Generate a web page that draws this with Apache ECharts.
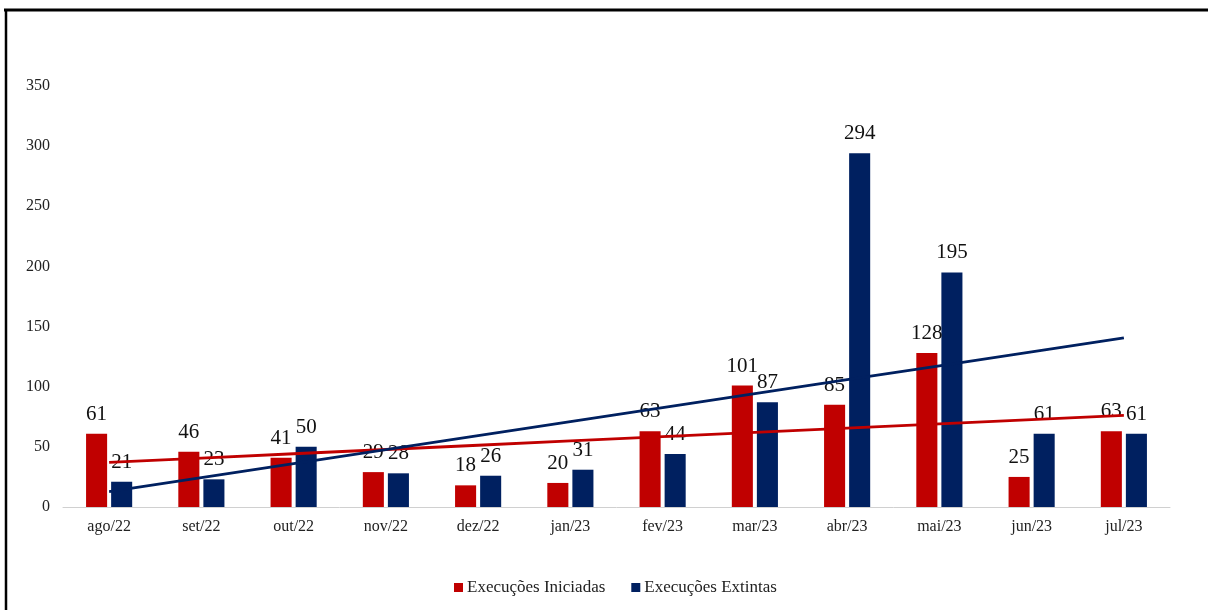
<!DOCTYPE html>
<html>
<head>
<meta charset="utf-8">
<script src="https://cdn.jsdelivr.net/npm/echarts@6/dist/echarts.min.js"></script>
<style>
html,body{margin:0;padding:0;background:#fff;}
#c{width:1208px;height:610px;}
</style>
</head>
<body>
<div id="c"></div>
<script>
const categories = ['ago/22','set/22','out/22','nov/22','dez/22','jan/23','fev/23','mar/23','abr/23','mai/23','jun/23','jul/23'];
const iniciadas = [61,46,41,29,18,20,63,101,85,128,25,63];
const extintas = [21,23,50,28,26,31,44,87,294,195,61,61];
const yTicks = [0,50,100,150,200,250,300,350];

function trend(vals){
  const n = vals.length;
  let sx=0, sy=0, sxy=0, sxx=0;
  vals.forEach((v,i)=>{const x=i+1; sx+=x; sy+=v; sxy+=x*v; sxx+=x*x;});
  const b=(n*sxy-sx*sy)/(n*sxx-sx*sx);
  const a=(sy-b*sx)/n;
  return vals.map((v,i)=>+(a+b*(i+1)).toFixed(2));
}

const RED='#C00000', BLUE='#002060';
const FONT='Liberation Serif';
const chart = echarts.init(document.getElementById('c'), null, {renderer:'canvas'});
chart.setOption({
  animation:false,
  backgroundColor:'#fff',
  textStyle:{fontFamily:FONT},
  grid:{left:63,right:38,top:86,bottom:103},
  legend:{
    bottom:9,left:449,
    itemWidth:9,itemHeight:9,itemGap:26,
    icon:'rect',
    textStyle:{fontFamily:FONT,fontSize:17,color:'#222',padding:[0,0,0,-1]},
    data:['Execuções Iniciadas','Execuções Extintas']
  },
  xAxis:{
    type:'category',data:categories,
    axisLine:{lineStyle:{color:'#d0d0d0',width:1}},
    axisTick:{show:false},
    axisLabel:{color:'#222',fontSize:16,fontFamily:FONT,margin:12}
  },
  yAxis:{
    type:'value',min:yTicks[0],max:yTicks[yTicks.length-1],interval:50,
    splitLine:{show:false},axisLine:{show:false},axisTick:{show:false},
    axisLabel:{color:'#222',fontSize:16,fontFamily:FONT,margin:13}
  },
  series:[
    {name:'Execuções Iniciadas',type:'bar',data:iniciadas,itemStyle:{color:RED},
     barCategoryGap:'50%',barGap:'19%',
     label:{show:true,position:'top',distance:9,fontSize:21,fontFamily:FONT,color:'#111'}},
    {name:'Execuções Extintas',type:'bar',data:extintas,itemStyle:{color:BLUE},
     label:{show:true,position:'top',distance:9,fontSize:21,fontFamily:FONT,color:'#111'}},
    {name:'trendIni',type:'line',data:trend(iniciadas),symbol:'none',z:5,
     lineStyle:{color:RED,width:2.8},itemStyle:{color:RED},silent:true},
    {name:'trendExt',type:'line',data:trend(extintas),symbol:'none',z:5,
     lineStyle:{color:BLUE,width:2.8},itemStyle:{color:BLUE},silent:true}
  ],
  graphic:[
    {type:'line',shape:{x1:4,y1:10,x2:1208,y2:10},style:{stroke:'#000',lineWidth:3}},
    {type:'line',shape:{x1:6,y1:9,x2:6,y2:610},style:{stroke:'#000',lineWidth:2.5}}
  ]
});
</script>
</body>
</html>
